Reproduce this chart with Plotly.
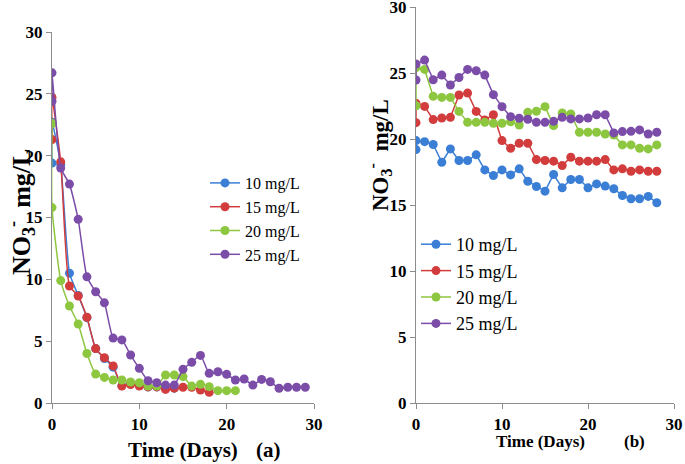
import plotly.graph_objects as go

# ---------------- data ----------------
series_names = ["10 mg/L", "15 mg/L", "20 mg/L", "25 mg/L"]
colors = ["#3a7fd5", "#d23c3c", "#8dc63f", "#7b4ca8"]

# Panel (a)
a_days_10 = [0, 0, 1, 2, 3, 4, 5, 6, 7, 8, 9, 10, 11, 12, 13, 14]
a_vals_10 = [19.4, 22.7, 19.3, 10.5, 8.7, 6.9, 4.4, 3.6, 2.9, 1.4, 1.6, 1.4, 1.3, 1.3, 1.2, 1.2]
a_days_15 = [0, 0, 1, 2, 3, 4, 5, 6, 7, 8, 9, 10, 11, 12, 13, 14, 15, 16, 17, 18]
a_vals_15 = [21.3, 24.7, 19.5, 9.46, 8.65, 6.93, 4.4, 3.66, 3.0, 1.37, 1.5, 1.37, 1.3, 1.3, 1.1, 1.2, 1.27, 1.27, 1.05, 0.86]
a_days_20 = [0, 0, 1, 2, 3, 4, 5, 6, 7, 8, 9, 10, 11, 12, 13, 14, 15, 16, 17, 18, 19, 20, 21]
a_vals_20 = [22.6, 15.8, 9.9, 7.84, 6.39, 4.0, 2.34, 2.07, 1.86, 1.86, 1.7, 1.64, 1.37, 1.37, 2.26, 2.26, 2.13, 1.37, 1.51, 1.32, 1.0, 1.0, 1.0]
a_days_25 = [0, 0, 1, 2, 3, 4, 5, 6, 7, 8, 9, 10, 11, 12, 13, 14, 15, 16, 17, 18, 19, 20, 21, 22, 23, 24, 25, 26, 27, 28, 29]
a_vals_25 = [24.4, 26.7, 19.0, 17.7, 14.85, 10.2, 9.0, 8.1, 5.25, 5.1, 3.88, 2.8, 1.8, 1.64, 1.45, 1.45, 2.72, 3.29, 3.85, 2.4, 2.53, 2.32, 1.86, 1.94, 1.45, 1.91, 1.72, 1.19, 1.27, 1.27, 1.27]

# Panel (b)
b_days = [0, 0, 1, 2, 3, 4, 5, 6, 7, 8, 9, 10, 11, 12, 13, 14, 15, 16, 17, 18, 19, 20, 21, 22, 23, 24, 25, 26, 27, 28]
b_vals_10 = [19.2, 19.88, 19.8, 19.58, 18.24, 19.25, 18.37, 18.37, 18.8, 17.66, 17.23, 17.66, 17.28, 17.74, 16.8,
             16.4, 16.05, 17.31, 16.3, 16.93, 16.93, 16.3, 16.6, 16.43, 16.23, 15.72, 15.47, 15.47, 15.65, 15.17]
b_vals_15 = [21.24, 22.7, 22.47, 21.47, 21.59, 21.64, 23.33, 23.48, 22.09, 21.44, 21.84, 19.88, 19.3, 19.68, 19.68,
             18.44, 18.37, 18.32, 17.99, 18.62, 18.32, 18.32, 18.32, 18.44, 17.66, 17.74, 17.56, 17.66, 17.56, 17.56]
b_vals_20 = [22.52, 25.42, 25.27, 23.23, 23.15, 23.15, 22.09, 21.26, 21.26, 21.26, 21.19, 21.19, 21.31, 21.06, 22.02,
             22.1, 22.45, 21.01, 21.97, 21.9, 20.51, 20.51, 20.51, 20.38, 20.3, 19.55, 19.55, 19.3, 19.25, 19.55]
b_vals_25 = [24.47, 25.68, 25.98, 24.49, 24.84, 24.09, 24.66, 25.27, 25.17, 24.84, 23.36, 22.45, 21.69, 21.57, 21.5,
             21.26, 21.26, 21.34, 21.64, 21.52, 21.52, 21.59, 21.84, 21.84, 20.46, 20.56, 20.58, 20.69, 20.38, 20.51]

x_ticks = [0, 10, 20, 30]
y_ticks = [0, 5, 10, 15, 20, 25, 30]

# ---------------- figure ----------------
FONT = "Liberation Serif, Times New Roman, serif"
fig = go.Figure()

a_sets = [(a_days_10, a_vals_10), (a_days_15, a_vals_15), (a_days_20, a_vals_20), (a_days_25, a_vals_25)]
for (xs, ys), name, col in zip(a_sets, series_names, colors):
    fig.add_trace(go.Scatter(
        x=xs, y=ys, name=name, mode="lines+markers",
        line=dict(color=col, width=1.5, shape="spline", smoothing=0.5),
        marker=dict(color=col, size=9),
        xaxis="x", yaxis="y", legend="legend"))

b_sets = [b_vals_10, b_vals_15, b_vals_20, b_vals_25]
for ys, name, col in zip(b_sets, series_names, colors):
    fig.add_trace(go.Scatter(
        x=b_days, y=ys, name=name, mode="lines+markers",
        line=dict(color=col, width=1.5),
        marker=dict(color=col, size=9),
        xaxis="x2", yaxis="y2", legend="legend2"))

W, H = 685, 464
def px_x(p): return p / W
def px_y(p): return (H - p) / H

axis_common = dict(showline=True, linecolor="#8c8c8c", linewidth=1.2, ticks="outside",
                   tickcolor="#8c8c8c", ticklen=5, showgrid=False, zeroline=False, automargin=False,
                   ticklabeloverflow="allow",
                   tickfont=dict(family=FONT, size=17, color="black", weight="bold"))

fig.update_layout(
    width=W, height=H, margin=dict(l=0, r=0, t=0, b=0, autoexpand=False),
    paper_bgcolor="white", plot_bgcolor="white",
    font=dict(family=FONT, color="black"),
    xaxis=dict(domain=[px_x(52), px_x(314)], range=[0, 30], tickvals=x_ticks, anchor="y", **axis_common),
    yaxis=dict(domain=[px_y(403), px_y(32)], range=[0, 30], tickvals=y_ticks, anchor="x", **axis_common),
    xaxis2=dict(domain=[px_x(416), px_x(674)], range=[0, 30], tickvals=x_ticks, anchor="y2", **axis_common),
    yaxis2=dict(domain=[px_y(403), px_y(7)], range=[0, 30], tickvals=y_ticks, anchor="x2", **axis_common),
    legend=dict(x=px_x(205), y=px_y(166), xanchor="left", yanchor="top",
                font=dict(family=FONT, size=16, color="black"), bgcolor="rgba(0,0,0,0)"),
    legend2=dict(x=px_x(416), y=px_y(226), xanchor="left", yanchor="top",
                 font=dict(family=FONT, size=18, color="black"), bgcolor="rgba(0,0,0,0)"),
    showlegend=True,
)

def label(text, x, y, size, angle=0):
    return dict(text=text, x=px_x(x), y=px_y(y), xref="paper", yref="paper",
                xanchor="center", yanchor="middle", textangle=angle, showarrow=False,
                font=dict(family=FONT, size=size, color="black"))

ann = [
    label("<b>NO<sub>3</sub><sup>-</sup>  mg/L</b>", 21, 212, 26, -90),
    label("<b>NO<sub>3</sub><sup>-</sup>  mg/L</b>", 379, 155, 23, -90),
    label("<b>Time (Days)</b>", 183, 450, 21),
    label("<b>(a)</b>", 268, 450, 21),
    label("<b>Time (Days)</b>", 540, 441, 17),
    label("<b>(b)</b>", 634, 441, 17),
]
fig.update_layout(annotations=ann)

fig.write_html("out.html", config={"displayModeBar": False},
               post_script="document.body.style.margin='0';document.body.style.overflow='hidden';")
